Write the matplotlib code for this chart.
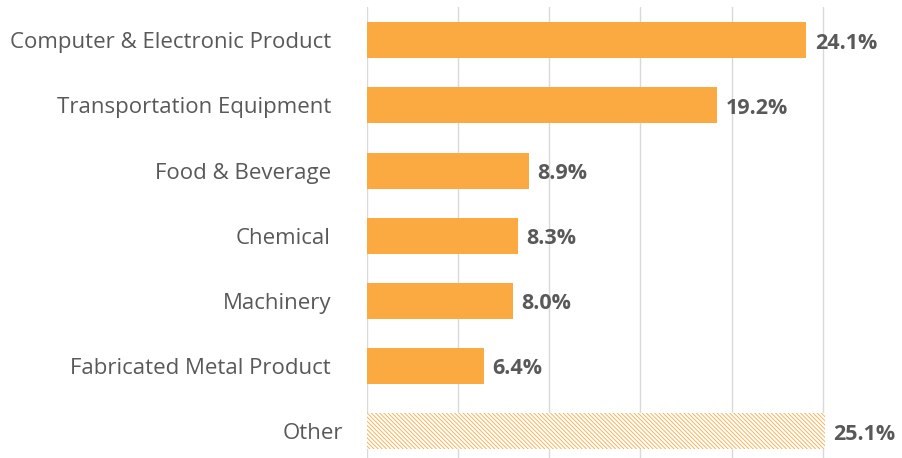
import matplotlib.pyplot as plt
import matplotlib.transforms as mtransforms

plt.rcParams['font.family'] = ['Open Sans', 'DejaVu Sans']

categories = ["Computer & Electronic Product", "Transportation Equipment",
              "Food & Beverage", "Chemical", "Machinery",
              "Fabricated Metal Product", "Other"]
shares = [24.1, 19.2, 8.9, 8.3, 8.0, 6.4, 25.1]
labels = ["24.1%", "19.2%", "8.9%", "8.3%", "8.0%", "6.4%", "25.1%"]

orange = "#FBA941"
grey = "#595959"

fig = plt.figure(figsize=(9.03, 4.58), dpi=100)
ax = fig.add_axes([367 / 903, 0, 536 / 903, 451 / 458])

ypos = list(range(len(categories)))
for i, (y, v) in enumerate(zip(ypos, shares)):
    if categories[i] == "Other":
        plt.rcParams['hatch.color'] = orange
        plt.rcParams['hatch.linewidth'] = 0.6
        ax.barh(y, v, height=0.55, color="white", edgecolor=orange,
                hatch="\\\\\\\\\\\\\\\\", linewidth=0, zorder=2)
    else:
        ax.barh(y, v, height=0.55, color=orange, zorder=2)
    ax.annotate(labels[i], (v, y), xytext=(6, -2), textcoords="offset points",
                ha="left", va="center", fontsize=15.5, fontweight="bold",
                color=grey)

ax.set_xlim(0, 29.4)
ax.set_ylim(6.41, -0.51)
ax.set_xticks([0, 5, 10, 15, 20, 25])
ax.set_xticklabels([])
ax.grid(axis="x", color="#d9d9d9", linewidth=1, zorder=0)
ax.set_axisbelow(True)
ax.set_yticks(ypos)
ax.set_yticklabels(categories, fontsize=16, color=grey)
ax.tick_params(axis="y", length=0, pad=26)
ax.tick_params(axis="x", length=0)
for s in ax.spines.values():
    s.set_visible(False)

# "Other" label sits a bit closer to the axis
last = ax.get_yticklabels()[-1]
last.set_transform(last.get_transform() +
                   mtransforms.ScaledTranslation(12 / 100, 0, fig.dpi_scale_trans))

fig.savefig("out.png", dpi=100)
